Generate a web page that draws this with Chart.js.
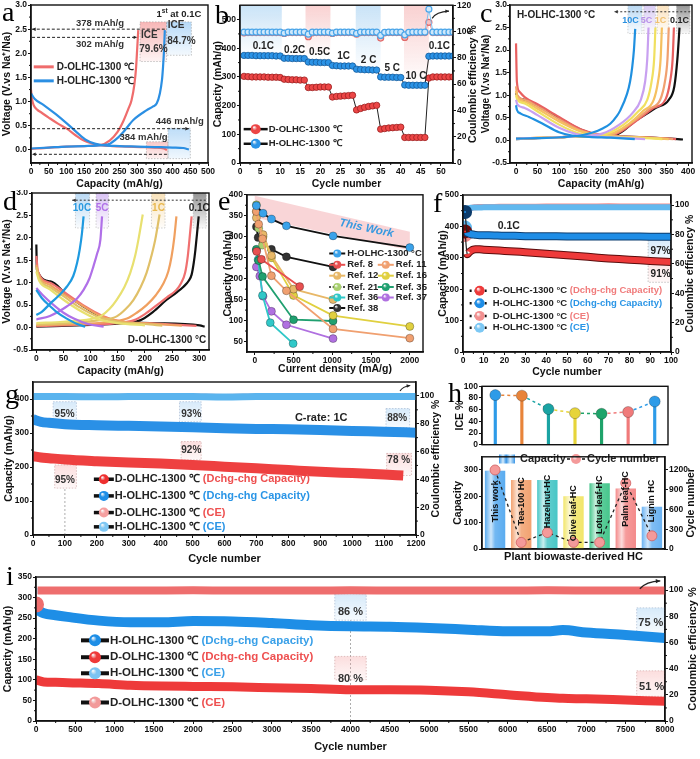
<!DOCTYPE html>
<html><head><meta charset="utf-8">
<script src="https://cdn.jsdelivr.net/npm/chart.js@4.4.0/dist/chart.umd.min.js"></script>
<style>
body{margin:0;background:#fff;}
#wrap{position:relative;width:700px;height:759px;overflow:hidden;background:#fff;}
.lt{position:absolute;font:28px "Liberation Serif","Times New Roman",serif;line-height:28px;color:#000;}
</style></head><body><div id="wrap"></div>
<script>
// ---------------- DATA ----------------
// (a) first cycle GCD at 0.1C : [capacity mAh/g, voltage V]
const aD_dis=[[0,1.25],[3,1.05],[8,0.92],[18,0.83],[26,0.79],[50,0.67],[75,0.55],[101,0.44],[125,0.31],[148,0.2],[170,0.14],[195,0.1],[230,0.08],[270,0.07],[310,0.06],[350,0.05],[375,0.03],[384,0.0]];
const aD_chg=[[0,0.02],[50,0.05],[100,0.07],[150,0.08],[195,0.1],[223,0.2],[245,0.38],[261,0.6],[275,0.85],[284,1.03],[292,1.35],[297,1.72],[300,2.1],[303,2.48]];
const aH_dis=[[0,1.17],[10,1.06],[36,0.93],[70,0.74],[101,0.55],[130,0.36],[157,0.2],[180,0.13],[200,0.1],[250,0.08],[300,0.07],[350,0.06],[400,0.05],[430,0.04],[446,0.01]];
const aH_chg=[[0,0.03],[50,0.05],[100,0.07],[150,0.08],[200,0.1],[223,0.13],[245,0.25],[261,0.37],[289,0.62],[326,0.82],[345,0.9],[355,0.96],[364,1.17],[370,1.45],[373,1.72],[376,2.1],[378,2.48]];
const aXt=[0,50,100,150,200,250,300,350,400,450,500];
const aYt=[0,0.5,1,1.5,2,2.5,3];

// (b) rate performance
const bCapD=[302,301,300,300,300,300,299,299,299,298, 292,291,290,290,289,289, 263,263,264,265,265,265, 230,232,233,234,235,236, 185,190,194,197,199,201, 118,120,122,123,124,125, 89,89,89,89,89,89, 296,300,300,300,300,300,300];
const bCapH=[375,375,375,374,374,374,374,374,373,373, 365,365,364,364,364,364, 352,351,351,350,350,350, 340,339,338,338,338,338, 327,326,325,325,324,324, 300,299,299,299,298,298, 272,271,271,271,271,271, 372,373,373,373,373,373,373];
const bCE_H=[99.5,99.6,99.6,99.6,99.6,99.6,99.6,99.6,99.6,99.6, 98.8,99.6,99.6,99.6,99.6,99.6, 98,99.5,99.6,99.6,99.6,99.6, 98.8,99.6,99.6,99.6,99.6,99.6, 98.5,99.6,99.6,99.6,99.6,99.6, 97,99.4,99.6,99.6,99.6,99.6, 97.5,99.4,99.6,99.6,99.6,99.6, 117,99.5,99.6,99.6,99.6,99.6,99.6];
const bCE_D=[99,99.2,99.2,99.2,99.2,99.2,99.2,99.2,99.2,99.2, 98.5,99.2,99.2,99.2,99.2,99.2, 96,99,99.2,99.2,99.2,99.2, 98.5,99.2,99.2,99.2,99.2,99.2, 98,99.2,99.2,99.2,99.2,99.2, 95,99,99.2,99.2,99.2,99.2, 95.5,99,99.2,99.2,99.2,99.2, 107,99.2,99.2,99.2,99.2,99.2,99.2];
const bCycles=bCapD.map((_,i)=>i+1);
const bXt=[0,5,10,15,20,25,30,35,40,45,50];
const bYt=[0,100,200,300,400,500];
const bY1t=[0,20,40,60,80,100,120];
const bRateLabels=['0.1C','0.2C','0.5C','1C','2 C','5 C','10 C','0.1C'];

// (c) H-OLHC-1300 GCD at rates  order: 10C,5C,2C,1C,0.5C,0.2C,0.1C
const cRates=['10C','5C','2C','1C','0.5C','0.2C','0.1C'];
const cDis=[
 [[0,0.78],[2,0.68],[10,0.6],[30,0.52],[60,0.38],[100,0.18],[130,0.11],[170,0.08],[220,0.06],[276,0.03]],
 [[0,0.9],[3,0.8],[20,0.72],[50,0.56],[100,0.28],[140,0.14],[180,0.09],[240,0.06],[300,0.03]],
 [[0,1.0],[3,0.9],[20,0.82],[50,0.64],[100,0.35],[145,0.16],[190,0.1],[260,0.07],[340,0.03]],
 [[0,1.1],[3,0.95],[20,0.86],[50,0.7],[100,0.42],[150,0.2],[200,0.1],[280,0.07],[355,0.03]],
 [[0,1.2],[3,1.0],[20,0.9],[50,0.75],[100,0.47],[150,0.22],[200,0.11],[290,0.07],[365,0.03]],
 [[0,2.15],[2,1.3],[8,1.08],[20,0.96],[50,0.8],[100,0.52],[150,0.25],[200,0.12],[300,0.07],[372,0.03]],
 [[0,1.05],[5,0.95],[20,0.9],[50,0.76],[100,0.5],[150,0.24],[200,0.11],[300,0.07],[388,0.02]]];
const cChg=[
 [[0,0.04],[50,0.05],[103,0.07],[150,0.11],[180,0.18],[200,0.26],[219,0.37],[235,0.55],[242,0.66],[258,1.03],[265,1.3],[270,1.62],[274,2.0],[277,2.47]],
 [[0,0.04],[100,0.07],[150,0.1],[200,0.15],[240,0.35],[270,0.6],[290,0.9],[300,1.3],[305,1.8],[308,2.5]],
 [[0,0.04],[100,0.07],[150,0.09],[200,0.12],[250,0.35],[285,0.65],[305,0.9],[315,1.3],[321,1.8],[324,2.5]],
 [[0,0.04],[100,0.07],[150,0.09],[210,0.12],[260,0.35],[295,0.65],[320,0.9],[330,1.3],[336,1.8],[339,2.5]],
 [[0,0.04],[100,0.07],[150,0.09],[220,0.12],[270,0.4],[310,0.7],[335,0.9],[346,1.3],[352,1.8],[355,2.5]],
 [[0,0.04],[100,0.07],[150,0.09],[225,0.12],[275,0.4],[320,0.72],[348,0.92],[358,1.3],[364,1.8],[367,2.5]],
 [[0,0.03],[100,0.07],[150,0.09],[230,0.12],[280,0.45],[325,0.72],[355,0.9],[368,1.2],[375,1.8],[380,2.5]]];
const cXt=[0,50,100,150,200,250,300,350,400];
const vYt=[-0.5,0,0.5,1,1.5,2,2.5,3];

// (d) D-OLHC-1300 GCD at rates  order: 10C,5C,2C,1C,0.5C,0.2C,0.1C
const dDis=[
 [[0,0.84],[10,0.66],[26,0.47],[40,0.32],[56,0.2],[75,0.08],[90,0.02]],
 [[0,0.88],[12,0.72],[32,0.5],[50,0.33],[69,0.2],[95,0.08],[124,0.02]],
 [[0,1.25],[5,1.05],[25,0.85],[50,0.62],[80,0.38],[110,0.2],[150,0.1],[200,0.05]],
 [[0,1.35],[5,1.1],[25,0.9],[50,0.7],[80,0.45],[110,0.26],[150,0.13],[200,0.08],[232,0.04]],
 [[0,1.4],[5,1.15],[25,0.95],[50,0.75],[90,0.45],[120,0.25],[160,0.13],[220,0.08],[268,0.04]],
 [[0,1.6],[3,1.25],[25,1.0],[56,0.75],[90,0.47],[120,0.27],[150,0.15],[220,0.09],[295,0.04]],
 [[0,1.85],[1,1.29],[26,1.03],[56,0.73],[87,0.47],[118,0.25],[148,0.14],[209,0.1],[301,0.05],[310,0.02]]];
const dChg=[
 [[0,0.28],[10,0.35],[26,0.54],[42,0.72],[56,0.91],[68,1.15],[75,1.44],[80,1.75],[84,2.1],[87,2.48]],
 [[0,0.18],[25,0.26],[56,0.47],[75,0.65],[87,0.84],[98,1.1],[105,1.36],[112,1.65],[118,1.96],[121,2.48]],
 [[0,0.1],[50,0.13],[100,0.19],[118,0.25],[135,0.42],[148,0.62],[162,0.9],[173,1.22],[182,1.6],[188,1.96],[196,2.52]],
 [[0,0.07],[60,0.1],[120,0.17],[148,0.25],[165,0.42],[179,0.62],[192,0.9],[203,1.22],[212,1.6],[219,1.96],[227,2.52]],
 [[0,0.05],[80,0.08],[140,0.13],[167,0.2],[185,0.33],[203,0.5],[220,0.72],[234,0.98],[243,1.25],[249,1.58],[254,2.0],[258,2.48]],
 [[0,0.03],[100,0.07],[150,0.1],[179,0.16],[200,0.3],[222,0.5],[240,0.67],[258,0.84],[267,1.0],[274,1.22],[279,1.6],[282,1.96],[286,2.48]],
 [[0,0.02],[100,0.06],[150,0.09],[191,0.16],[215,0.35],[240,0.62],[258,0.78],[271,0.91],[281,1.05],[286,1.18],[290,1.45],[293,1.74],[296,2.1],[299,2.48]]];
const dXt=[0,50,100,150,200,250,300];

// (e) rate comparison [current density mA/g, capacity mAh/g]
const eNames=['H-OLHC-1300 °C','Ref. 8','Ref. 11','Ref. 12','Ref. 16','Ref. 21','Ref. 35','Ref. 36','Ref. 37','Ref. 38'];
const eH=[[21,374],[107,356],[215,342],[408,326],[1010,302],[2000,274]];
const eR8=[[25,265],[86,246],[580,181]];
const eR11=[[21,360],[50,330],[100,295],[215,207],[408,171],[1010,80],[2000,58]];
const eR12=[[21,345],[107,305],[215,255],[500,175],[1010,150]];
const eR16=[[21,360],[107,300],[215,250],[500,160],[1010,112],[2000,86]];
const eR21=[[21,376],[50,320],[100,280]];
const eR35=[[21,270],[50,243],[100,205],[500,102],[1010,99]];
const eR36=[[21,268],[43,245],[100,160],[200,95],[495,45]];
const eR37=[[21,228],[65,206],[107,158],[215,122],[408,90],[1010,57]];
const eR38=[[21,324],[43,298],[107,284],[215,270],[408,252],[1010,228]];
const eXt=[0,500,1000,1500,2000];
const eYt=[50,100,150,200,250,300,350,400];

// (f) cycling 0.1C
const fCycles=[1,2,3,4,5,6,8,10,15,20,25,30,40,50,60,70,80,90,100];
const fCapD=[384,312,318,323,326,327,327,326,324,322,320,318,313,308,303,298,294,290,287];
const fCapH=[446,380,377,375,374,373,372,372,371,370,370,369,369,368,368,368,368,367,367];
const fCE_D=[79.6,96,97.5,98,98.5,98.6,98.7,98.8,98.8,98.9,98.9,98.9,99,99,99,99.2,99,99,99];
const fCE_H=[84.7,97,98,98.2,98.3,98.4,98.4,98.5,98.5,98.5,98.5,98.5,98.5,98.5,98.5,98.5,98.5,98.5,98.5];
const fXt=[0,10,20,30,40,50,60,70,80,90,100];
const fYt=[0,100,200,300,400,500];
const ceT=[0,20,40,60,80,100];

// (g) cycling 1C
const gCycles=[0,25,50,100,200,300,400,500,600,700,800,900,1000,1100,1200];
const gCapH=[340,333,330,326,323,321,319,317,314,312,311,309,306,304,301];
const gCyclesD=[0,25,50,100,200,300,400,500,600,700,800,900,1000,1100,1160];
const gCapD=[232,228,226,222,217,213,210,206,201,196,191,186,182,178,175];
const gCE_H=[99.5,99.6,99.5,99.5,99.4,99.5,99.6,99.5,99.2,99.5,99.6,99.5,99.5,99.6,99.5];
const gCE_D=[99.4,99.5,99.4,99.4,99.3,99.4,99.5,99.4,99.3,99.4,99.5,99.4,99.4,99.5,99.4];
const gXt=[0,100,200,300,400,500,600,700,800,900,1000,1100,1200];
const gYt=[0,100,200,300,400];

// (h) plant biowaste-derived HC comparison
const hNames=['This work','Tea-100 HC','Hazelnut-HC','Olive leaf-HC','Lotus leaf-HC','Palm leaf-HC','Lignin HC'];
const hICE=[85,84,61,54,53,56,74];
const hCap=[297,262,262,200,250,230,160];
const hCycle=[1200,100,250,100,100,1000,200];
const hIceT=[0,20,40,60,80,100];
const hCapT=[0,100,200,300];
const hCycT=[0,300,600,900,1200];

// (i) long cycling
const iCycles=[0,100,250,400,800,1200,1600,2000,2500,3000,3500,4000,4500,5000,5500,6000,6500,6700,7000,7500,8000];
const iCapH=[272,262,257,253,244,240,240,243,242,238,233,230,229,226,222,218,218,221,215,209,202];
const iCapD=[100,95,94,93,91,87,85,84,83,81,79,76,76,75,71,64,57,55,54,51,48];
const iCECycles=[0,20,500,1000,1500,2000,2500,3000,3500,4000,4500,5000,5500,6000,6500,7000,7500,8000];
const iCE_D=[89,99.6,99.7,99.6,99.7,99.8,99.6,99.7,99.7,99.8,99.7,99.6,99.7,99.7,99.8,99.7,99.6,99.7];
const iCE_H=[91,99.4,99.5,99.4,99.5,99.6,99.4,99.5,99.5,99.6,99.5,99.4,99.5,99.5,99.6,99.5,99.4,99.5];
const iXt=[0,500,1000,1500,2000,2500,3000,3500,4000,4500,5000,5500,6000,6500,7000,7500,8000];
const iYt=[0,50,100,150,200,250,300,350];

// ---------------- HELPERS ----------------
const FAM='"Liberation Sans", Arial, Helvetica, sans-serif';
const F=(s,st)=>(st?st+' ':'')+'bold '+s+'px '+FAM;
Chart.defaults.font.family=FAM;
Chart.defaults.animation=false;
Chart.defaults.responsive=false;
Chart.defaults.events=[];
Chart.defaults.plugins.legend.display=false;
Chart.defaults.plugins.tooltip.enabled=false;

const P=a=>a.map(q=>({x:q[0],y:q[1]}));
const Z=(xs,ys)=>xs.map((x,i)=>({x:x,y:ys[i]}));

function arrowHead(ctx,from,to,color,size){
  size=size||5;
  const a=Math.atan2(to[1]-from[1],to[0]-from[0]);
  ctx.fillStyle=color;ctx.beginPath();ctx.moveTo(to[0],to[1]);
  ctx.lineTo(to[0]-size*Math.cos(a-0.45),to[1]-size*Math.sin(a-0.45));
  ctx.lineTo(to[0]-size*Math.cos(a+0.45),to[1]-size*Math.sin(a+0.45));
  ctx.closePath();ctx.fill();
}
function ball(ctx,x,y,r,col){
  const g=ctx.createRadialGradient(x-r*0.35,y-r*0.4,r*0.05,x,y,r);
  g.addColorStop(0,'rgba(255,255,255,0.95)');g.addColorStop(0.45,col);g.addColorStop(1,col);
  ctx.fillStyle=g;ctx.beginPath();ctx.arc(x,y,r,0,Math.PI*2);ctx.fill();
}
function rich(ctx,x,y,segs,font,align,rot){
  ctx.save();ctx.translate(x,y);if(rot)ctx.rotate(rot*Math.PI/180);
  ctx.textBaseline='middle';ctx.textAlign='left';
  let w=0;const ms=segs.map(s=>{ctx.font=s.f||font;const m=ctx.measureText(s.t).width;w+=m;return m;});
  let cx=align==='center'?-w/2:(align==='right'?-w:0);
  segs.forEach((s,i)=>{ctx.font=s.f||font;ctx.fillStyle=s.c||'#222';ctx.fillText(s.t,cx,s.dy||0);cx+=ms[i];});
  ctx.restore();
}
function drawItems(ch,items,o){
  const ctx=ch.ctx;
  for(const it of items){
    const xa=it.xAxis||'x',ya=it.yAxis||'y';
    const X=v=>it.page?v-o.ox:ch.scales[xa].getPixelForValue(v);
    const Y=v=>it.page?v-o.oy:ch.scales[ya].getPixelForValue(v);
    ctx.save();
    if(it.type==='box'){
      const x0=X(it.x0),x1=X(it.x1),y0=Y(it.y0),y1=Y(it.y1);
      const l=Math.min(x0,x1),t=Math.min(y0,y1),w=Math.abs(x1-x0),h=Math.abs(y1-y0);
      let fill=it.color;
      if(it.color2){const g=ctx.createLinearGradient(0,t,0,t+h);g.addColorStop(0,it.color);g.addColorStop(1,it.color2);fill=g;}
      ctx.fillStyle=fill;ctx.fillRect(l,t,w,h);
      if(it.stroke){ctx.strokeStyle=it.stroke;ctx.lineWidth=0.8;ctx.setLineDash([1.5,1.5]);ctx.strokeRect(l,t,w,h);}
    }else if(it.type==='poly'){
      ctx.fillStyle=it.color;ctx.beginPath();
      it.pts.forEach((q,i)=>{const px=X(q[0]),py=Y(q[1]);if(i)ctx.lineTo(px,py);else ctx.moveTo(px,py);});
      ctx.closePath();ctx.fill();
    }else if(it.type==='line'){
      const p=it.pts.map(q=>[X(q[0]),Y(q[1])]);
      ctx.strokeStyle=it.color||'#222';ctx.lineWidth=it.width||1;ctx.setLineDash(it.dash||[]);
      ctx.beginPath();ctx.moveTo(p[0][0],p[0][1]);
      if(it.curve&&p.length===3)ctx.quadraticCurveTo(p[1][0],p[1][1],p[2][0],p[2][1]);
      else for(let i=1;i<p.length;i++)ctx.lineTo(p[i][0],p[i][1]);
      ctx.stroke();ctx.setLineDash([]);
      if(it.arrowEnd)arrowHead(ctx,p[p.length-2],p[p.length-1],it.color||'#222',it.ah);
      if(it.arrowStart)arrowHead(ctx,p[1],p[0],it.color||'#222',it.ah);
    }else if(it.type==='text'){
      rich(ctx,X(it.x),Y(it.y),it.segs||[{t:it.text,c:it.color}],it.font||F(10),it.align||'center',it.rot||0);
    }else if(it.type==='legend'){
      const cx=X(it.x),cy=Y(it.y),hf=it.half||10;
      if(it.bar){
        const w=hf*2,h=9,l=cx-hf,t=cy-h/2;
        const g=ctx.createLinearGradient(l,0,l+w,0);
        g.addColorStop(0,'#3a95e6');g.addColorStop(0.25,'#d6ecfb');g.addColorStop(0.45,'#3a95e6');g.addColorStop(0.7,'#d6ecfb');g.addColorStop(1,'#3a95e6');
        ctx.fillStyle=g;ctx.fillRect(l,t,w,h);
      }else{
        ctx.strokeStyle=it.lineColor||'#111';ctx.lineWidth=it.lw||2;ctx.setLineDash(it.dash||[]);
        ctx.beginPath();ctx.moveTo(cx-hf,cy);ctx.lineTo(cx+hf,cy);ctx.stroke();ctx.setLineDash([]);
        if(it.ball)ball(ctx,cx,cy,it.r||4,it.ball);
      }
      rich(ctx,cx+hf+(it.gap||2),cy,it.segs,it.font||F(10),'left',0);
    }
    ctx.restore();
  }
}
const anno={id:'anno',
  beforeDatasetsDraw(ch,a,o){drawItems(ch,o.before||[],o);},
  afterDatasetsDraw(ch,a,o){drawItems(ch,o.after||[],o);},
  afterDatasetDraw(ch,a,o){
    if(o.gloss&&a.index===o.gloss){
      const ctx=ch.ctx;
      a.meta.data.forEach(el=>{
        const w=el.width,l=el.x-w/2,t=Math.min(el.y,el.base),h=Math.abs(el.base-el.y);
        const g=ctx.createLinearGradient(l,0,l+w,0);
        g.addColorStop(0,'rgba(255,255,255,0)');g.addColorStop(0.3,'rgba(255,255,255,0.7)');
        g.addColorStop(0.5,'rgba(255,255,255,0.15)');g.addColorStop(1,'rgba(255,255,255,0)');
        ctx.save();ctx.fillStyle=g;ctx.fillRect(l,t,w,h);ctx.restore();
      });
    }
  },
  afterDraw(ch,a,o){
    const ctx=ch.ctx,ca=ch.chartArea;
    ctx.save();
    ctx.strokeStyle='#111';ctx.lineWidth=1.4;
    ctx.strokeRect(ca.left,ca.top,ca.right-ca.left,ca.bottom-ca.top);
    (o.minor||[]).forEach(id=>{
      const s=ch.scales[id];if(!s)return;
      const tk=s.ticks;ctx.lineWidth=1;ctx.beginPath();
      for(let i=0;i<tk.length-1;i++){
        const m=(s.getPixelForValue(tk[i].value)+s.getPixelForValue(tk[i+1].value))/2;
        if(s.position==='left'){ctx.moveTo(ca.left,m);ctx.lineTo(ca.left-2,m);}
        else if(s.position==='right'){ctx.moveTo(ca.right,m);ctx.lineTo(ca.right+2,m);}
        else {ctx.moveTo(m,ca.bottom);ctx.lineTo(m,ca.bottom+2);}
      }
      ctx.stroke();
    });
    if(o.rt){
      ctx.translate(o.rt.x,(ca.top+ca.bottom)/2);ctx.rotate(-Math.PI/2);
      ctx.font=F(o.rt.s||10.5);ctx.fillStyle='#111';ctx.textAlign='center';ctx.textBaseline='middle';
      ctx.fillText(o.rt.text,0,0);
    }
    ctx.restore();
  }
};
Chart.register(anno);

function L(pos,min,max,ticks,size,title,o){
  o=o||{};
  const hz=pos==='bottom'||pos==='top';
  const sc={type:o.cat?'category':'linear',position:pos,display:o.display!==false,offset:!!o.cat,
    afterFit(s){if(hz)s.height=size;else s.width=size;s.paddingLeft=0;s.paddingRight=0;s.paddingTop=0;s.paddingBottom=0;},
    grid:{drawOnChartArea:false,drawTicks:!o.noMarks,tickLength:3,color:'#111',lineWidth:1},
    border:{display:true,color:'#111',width:1.4},
    ticks:{display:!o.noLabels,font:{family:FAM,size:o.fs||8.5,weight:'bold'},color:'#111',padding:o.tkp===undefined?1:o.tkp,maxRotation:0,minRotation:0,autoSkip:false},
    title:{display:!!title,text:title||'',color:'#111',font:{family:FAM,size:o.ts||10.5,weight:'bold'},padding:{top:o.tp||0,bottom:o.tp||0}}
  };
  if(!o.cat){
    sc.min=min;sc.max=max;sc.bounds='data';
    if(ticks)sc.afterBuildTicks=s=>{s.ticks=ticks.map(v=>({value:v}));};
    sc.ticks.callback=o.fmt||(v=>String(v));
  }
  return sc;
}
function mk(box,plot,build){
  const c=document.createElement('canvas');
  c.width=box.w;c.height=box.h;
  c.style.cssText='position:absolute;left:'+box.x+'px;top:'+box.y+'px;width:'+box.w+'px;height:'+box.h+'px;';
  document.getElementById('wrap').appendChild(c);
  const s={l:plot.l-box.x,t:plot.t-box.y,r:box.x+box.w-plot.r,b:box.y+box.h-plot.b};
  const cfg=build(s);
  cfg.options=cfg.options||{};
  cfg.options.devicePixelRatio=1;
  cfg.options.maintainAspectRatio=false;
  cfg.options.plugins=cfg.options.plugins||{};
  cfg.options.plugins.anno=Object.assign({ox:box.x,oy:box.y},cfg.options.plugins.anno||{});
  return new Chart(c,cfg);
}
function ln(data,color,w,extra){
  return Object.assign({type:'line',data:data,borderColor:color,backgroundColor:color,borderWidth:w,pointRadius:0,fill:false,cubicInterpolationMode:'monotone'},extra||{});
}
function letter(t,x,baseline){
  const d=document.createElement('div');d.className='lt';d.textContent=t;
  d.style.left=x+'px';d.style.top=(baseline-23)+'px';
  document.getElementById('wrap').appendChild(d);
}
const RED='#ef6c6c',BLUE='#2b8fe3';

// ---------------- (a) ----------------
mk({x:0,y:0,w:225,h:195},{l:31,t:5,r:208,b:163},s=>({type:'line',
  data:{datasets:[ln(P(aH_chg),BLUE,2.2),ln(P(aH_dis),BLUE,2.2),ln(P(aD_chg),RED,2.2),ln(P(aD_dis),RED,2.2)]},
  options:{layout:{padding:{top:s.t,left:0,right:s.r,bottom:0}},
    scales:{x:L('bottom',0,500,aXt,s.b,'Capacity (mAh/g)',{tp:5}),
            y:L('left',-0.27,3,aYt,s.l,'Voltage (V.vs Na⁺/Na)',{tp:1,fmt:v=>v.toFixed(1)})},
    plugins:{anno:{minor:['x','y'],
      before:[
        {type:'box',x0:308,x1:383,y0:2.65,y1:1.83,color:'rgba(240,110,110,0.5)',color2:'rgba(240,110,110,0.08)',stroke:'rgba(150,150,150,0.7)'},
        {type:'box',x0:383,x1:453,y0:2.65,y1:1.96,color:'rgba(110,180,240,0.5)',color2:'rgba(110,180,240,0.08)',stroke:'rgba(150,150,150,0.7)'},
        {type:'box',x0:326,x1:387,y0:0.17,y1:-0.18,color:'rgba(240,120,120,0.4)',color2:'rgba(240,120,120,0.1)',stroke:'rgba(150,150,150,0.7)'},
        {type:'box',x0:387,x1:450,y0:0.45,y1:-0.18,color:'rgba(110,180,240,0.45)',color2:'rgba(110,180,240,0.1)',stroke:'rgba(150,150,150,0.7)'}
      ],
      after:[
        {type:'line',pts:[[378,2.5],[3,2.5]],dash:[3,2],arrowEnd:true,ah:4},
        {type:'line',pts:[[3,2.33],[300,2.33]],dash:[3,2],arrowEnd:true,ah:4},
        {type:'line',pts:[[3,0.44],[446,0.44]],dash:[3,2],arrowEnd:true,ah:4},
        {type:'line',pts:[[384,-0.09],[3,-0.09]],dash:[3,2],arrowEnd:true,ah:4},
        {type:'text',x:195,y:2.63,text:'378 mAh/g',color:'#333',font:F(9.5)},
        {type:'text',x:195,y:2.19,text:'302 mAh/g',color:'#333',font:F(9.5)},
        {type:'text',x:334,y:2.38,text:'ICE',color:'#333',font:F(10)},
        {type:'text',x:346,y:2.09,text:'79.6%',color:'#333',font:F(10)},
        {type:'text',x:410,y:2.58,text:'ICE',color:'#333',font:F(10)},
        {type:'text',x:425,y:2.26,text:'84.7%',color:'#333',font:F(10)},
        {type:'text',x:420,y:0.6,text:'446 mAh/g',color:'#333',font:F(9.5)},
        {type:'text',x:318,y:0.27,text:'384 mAh/g',color:'#333',font:F(9.5)},
        {type:'text',x:418,y:2.8,segs:[{t:'1',c:'#222'},{t:'st',c:'#222',f:F(6.5),dy:-3},{t:' at 0.1C',c:'#222'}],font:F(9.5)},
        {type:'legend',x:36,y:1.72,half:10,lw:3,lineColor:RED,gap:3,segs:[{t:'D-OLHC-1300 ℃',c:'#222'}],font:F(10)},
        {type:'legend',x:36,y:1.43,half:10,lw:3,lineColor:BLUE,gap:3,segs:[{t:'H-OLHC-1300 ℃',c:'#222'}],font:F(10)}
      ]}}}}));

// ---------------- (b) ----------------
mk({x:212,y:0,w:268,h:195},{l:240,t:5,r:453,b:163},s=>({type:'line',
  data:{datasets:[
    {data:Z(bCycles,bCapH),borderColor:'#222',borderWidth:1,pointRadius:3.2,pointBackgroundColor:'#2b93e6',pointBorderColor:'#155a9a',pointBorderWidth:0.8,tension:0},
    {data:Z(bCycles,bCapD),borderColor:'#222',borderWidth:1,pointRadius:3.2,pointBackgroundColor:'#ec4646',pointBorderColor:'#9a2020',pointBorderWidth:0.8,tension:0},
    {data:Z(bCycles,bCE_H),yAxisID:'y1',borderColor:'#7cc0f0',borderWidth:1,pointRadius:3,pointBackgroundColor:'#cfe8fb',pointBorderColor:'#4aa6ea',pointBorderWidth:1.2,tension:0},
    {data:Z(bCycles,bCE_D),yAxisID:'y1',borderColor:'#f0a0a0',borderWidth:1,pointRadius:3,pointBackgroundColor:'#f8c0c0',pointBorderColor:'#e06a6a',pointBorderWidth:1.2,tension:0}
  ]},
  options:{layout:{padding:{top:s.t,left:0,right:0,bottom:0}},
    scales:{x:L('bottom',0,53,bXt,s.b,'Cycle number',{tp:5}),
            y:L('left',0,550,bYt,s.l,'Capacity (mAh/g)',{tp:0}),
            y1:L('right',0,120,bY1t,s.r,null)},
    plugins:{anno:{minor:['x','y','y1'],rt:{text:'Coulombic efficiency %',x:261},
      before:[
        {type:'box',x0:0,x1:10.4,y0:550,y1:380,color:'rgba(120,185,235,0.4)',color2:'rgba(120,185,235,0.02)'},
        {type:'box',x0:16.3,x1:22.5,y0:550,y1:380,color:'rgba(240,140,140,0.4)',color2:'rgba(240,140,140,0.02)'},
        {type:'box',x0:28.8,x1:35,y0:550,y1:330,color:'rgba(120,185,235,0.4)',color2:'rgba(120,185,235,0.02)'},
        {type:'box',x0:40.8,x1:47,y0:550,y1:280,color:'rgba(240,140,140,0.4)',color2:'rgba(240,140,140,0.02)'}
      ],
      after:[
        {type:'text',x:5.8,y:406,text:bRateLabels[0],color:'#222',font:F(10)},
        {type:'text',x:13.6,y:394,text:bRateLabels[1],color:'#222',font:F(10)},
        {type:'text',x:19.8,y:385,text:bRateLabels[2],color:'#222',font:F(10)},
        {type:'text',x:25.8,y:372,text:bRateLabels[3],color:'#222',font:F(10)},
        {type:'text',x:32,y:357,text:bRateLabels[4],color:'#222',font:F(10)},
        {type:'text',x:37.9,y:331,text:bRateLabels[5],color:'#222',font:F(10)},
        {type:'text',x:43.8,y:302,text:bRateLabels[6],color:'#222',font:F(10)},
        {type:'text',x:49.6,y:406,text:bRateLabels[7],color:'#222',font:F(10)},
        {type:'line',yAxis:'y1',pts:[[47.8,110],[48.8,115],[52,115.5]],curve:true,arrowEnd:true,ah:4,width:1.2},
        {type:'legend',x:3.9,y:118,half:12,lw:2.5,ball:'#ec4646',r:5,gap:1,segs:[{t:'D-OLHC-1300 ℃',c:'#222'}],font:F(9.5)},
        {type:'legend',x:3.9,y:67,half:12,lw:2.5,ball:'#2b93e6',r:5,gap:1,segs:[{t:'H-OLHC-1300 ℃',c:'#222'}],font:F(9.5)}
      ]}}}}));

// ---------------- (c) ----------------
const cCols=['#2090e0','#c8a0f0','#f0e060','#f5c060','#f0a070','#e86060','#111'];
mk({x:480,y:0,w:220,h:195},{l:510,t:5,r:692,b:163},s=>{
  const ds=[];
  cRates.forEach((r,i)=>{ds.push(ln(P(cChg[i]),cCols[i],2.2));ds.push(ln(P(cDis[i]),cCols[i],2.2));});
  return {type:'line',data:{datasets:ds},
  options:{layout:{padding:{top:s.t,left:0,right:s.r,bottom:0}},
    scales:{x:L('bottom',-14,409,cXt,s.b,'Capacity (mAh/g)',{tp:5}),
            y:L('left',-0.5,3,vYt,s.l,'Voltage (V.vs Na⁺/Na)',{tp:0,ts:10,tkp:0,fmt:v=>v.toFixed(1)})},
    plugins:{anno:{minor:['x','y'],
      before:[
        {type:'box',x0:260,x1:293,y0:3,y1:2.37,color:'rgba(100,170,230,0.45)',color2:'rgba(100,170,230,0.03)',stroke:'rgba(160,160,160,0.6)'},
        {type:'box',x0:297,x1:324,y0:3,y1:2.37,color:'rgba(170,140,230,0.45)',color2:'rgba(170,140,230,0.03)',stroke:'rgba(160,160,160,0.6)'},
        {type:'box',x0:328,x1:355,y0:3,y1:2.37,color:'rgba(245,190,110,0.45)',color2:'rgba(245,190,110,0.03)',stroke:'rgba(160,160,160,0.6)'},
        {type:'box',x0:373,x1:404,y0:3,y1:2.37,color:'rgba(60,60,60,0.55)',color2:'rgba(60,60,60,0.03)',stroke:'rgba(160,160,160,0.6)'}
      ],
      after:[
        {type:'line',pts:[[405,2.85],[228,2.85]],dash:[2,2],arrowEnd:true,ah:4,color:'#333'},
        {type:'text',x:266,y:2.65,text:cRates[0],color:'#2a90e0',font:F(9)},
        {type:'text',x:303,y:2.65,text:cRates[1],color:'#b890e8',font:F(9)},
        {type:'text',x:336,y:2.65,text:cRates[3],color:'#f0c070',font:F(9)},
        {type:'text',x:380,y:2.65,text:cRates[6],color:'#222',font:F(9)},
        {type:'text',x:2,y:2.78,text:'H-OLHC-1300 °C',color:'#222',font:F(10),align:'left'}
      ]}}}};
});

// ---------------- (d) ----------------
const dCols=['#1e9ae0','#b070e8','#e8e070','#e0c068','#f0a060','#f07070','#111'];
mk({x:0,y:190,w:225,h:195},{l:32,t:193,r:209,b:350},s=>{
  const ds=[];
  cRates.forEach((r,i)=>{ds.push(ln(P(dChg[i]),dCols[i],2.2));ds.push(ln(P(dDis[i]),dCols[i],2.2));});
  return {type:'line',data:{datasets:ds},
  options:{layout:{padding:{top:s.t,left:0,right:s.r,bottom:0}},
    scales:{x:L('bottom',-8,318,dXt,s.b,'Capacity (mAh/g)',{tp:8}),
            y:L('left',-0.5,3,vYt,s.l,'Voltage (V.vs Na⁺/Na)',{tp:1,fmt:v=>v.toFixed(1)})},
    plugins:{anno:{minor:['x','y'],
      before:[
        {type:'box',x0:72,x1:98,y0:3,y1:2.22,color:'rgba(100,170,230,0.45)',color2:'rgba(100,170,230,0.03)',stroke:'rgba(160,160,160,0.6)'},
        {type:'box',x0:110,x1:133,y0:3,y1:2.22,color:'rgba(170,120,230,0.45)',color2:'rgba(170,120,230,0.03)',stroke:'rgba(160,160,160,0.6)'},
        {type:'box',x0:212,x1:237,y0:3,y1:2.22,color:'rgba(240,190,100,0.45)',color2:'rgba(240,190,100,0.03)',stroke:'rgba(160,160,160,0.6)'},
        {type:'box',x0:289,x1:313,y0:3,y1:2.22,color:'rgba(60,60,60,0.55)',color2:'rgba(60,60,60,0.03)',stroke:'rgba(160,160,160,0.6)'}
      ],
      after:[
        {type:'line',pts:[[312,2.84],[66,2.84]],dash:[2,2],arrowEnd:true,ah:4,color:'#333'},
        {type:'text',x:84,y:2.66,text:cRates[0],color:'#2a9ae0',font:F(10)},
        {type:'text',x:121,y:2.66,text:cRates[1],color:'#b070e8',font:F(10)},
        {type:'text',x:225,y:2.66,text:cRates[3],color:'#e8b850',font:F(10)},
        {type:'text',x:300,y:2.66,text:cRates[6],color:'#222',font:F(10)},
        {type:'text',x:313,y:-0.28,text:'D-OLHC-1300 °C',color:'#222',font:F(10),align:'right'}
      ]}}}};
});

// ---------------- (e) ----------------
const eCols=['#3aa2ea','#e85050','#f0a070','#e8b868','#e0d040','#a8d070','#20a070','#30c8c8','#b070e0','#333'];
const eLine=['#111','#e85050','#f0a070','#e8b868','#e0d040','#111','#20a070','#30c8c8','#b070e0','#111'];
const eSets=[eH,eR8,eR11,eR12,eR16,eR21,eR35,eR36,eR37,eR38];
mk({x:215,y:190,w:215,h:195},{l:247,t:193,r:423,b:352},s=>({type:'line',
  data:{datasets:eSets.map((d,i)=>({data:P(d),borderColor:eLine[i],borderWidth:1.8,borderDash:i===5?[1.5,2.5]:[],tension:0,
      pointRadius:4,pointBackgroundColor:eCols[i],pointBorderColor:'rgba(0,0,0,0.35)',pointBorderWidth:0.8}))},
  options:{layout:{padding:{top:s.t,left:0,right:s.r,bottom:0}},
    scales:{x:L('bottom',-100,2170,eXt,s.b,'Current density (mA/g)',{tp:10}),
            y:L('left',25,400,eYt,s.l,'Capacity (mAh/g)',{tp:7})},
    plugins:{anno:{minor:['x','y'],
      before:[{type:'poly',pts:[[0,398],[2000,312],[2000,268],[0,345]],color:'rgba(240,150,155,0.4)'}],
      after:[
        {type:'text',x:1440,y:320,text:'This Work',color:'#3a9ae0',font:F(11.5,'italic'),rot:12},
        {type:'legend',x:1064,y:260,half:8,lw:2,ball:eCols[0],r:4,lineColor:eLine[0],segs:[{t:eNames[0],c:'#222'}],font:F(9.5)},
        {type:'legend',x:1064,y:233,half:8,lw:2,ball:eCols[1],r:4,lineColor:eLine[1],segs:[{t:eNames[1],c:'#222'}],font:F(9.5)},
        {type:'legend',x:1064,y:207,half:8,lw:2,ball:eCols[3],r:4,lineColor:eLine[3],segs:[{t:eNames[3],c:'#222'}],font:F(9.5)},
        {type:'legend',x:1064,y:180,half:8,lw:2,ball:eCols[5],r:4,lineColor:'#111',dash:[1.5,2],segs:[{t:eNames[5],c:'#222'}],font:F(9.5)},
        {type:'legend',x:1064,y:155,half:8,lw:2,ball:eCols[7],r:4,lineColor:eLine[7],segs:[{t:eNames[7],c:'#222'}],font:F(9.5)},
        {type:'legend',x:1064,y:130,half:8,lw:2,ball:eCols[9],r:4,lineColor:eLine[9],segs:[{t:eNames[9],c:'#222'}],font:F(9.5)},
        {type:'legend',x:1690,y:233,half:8,lw:2,ball:eCols[2],r:4,lineColor:eLine[2],segs:[{t:eNames[2],c:'#222'}],font:F(9.5)},
        {type:'legend',x:1690,y:207,half:8,lw:2,ball:eCols[4],r:4,lineColor:eLine[4],segs:[{t:eNames[4],c:'#222'}],font:F(9.5)},
        {type:'legend',x:1690,y:180,half:8,lw:2,ball:eCols[6],r:4,lineColor:eLine[6],segs:[{t:eNames[6],c:'#222'}],font:F(9.5)},
        {type:'legend',x:1690,y:155,half:8,lw:2,ball:eCols[8],r:4,lineColor:eLine[8],segs:[{t:eNames[8],c:'#222'}],font:F(9.5)}
      ]}}}}));

// ---------------- (f) ----------------
const firstSeg={borderColor:c=>c.p0DataIndex===0?'#222':undefined,borderWidth:c=>c.p0DataIndex===0?1.2:undefined};
const hideFirst={borderColor:c=>c.p0DataIndex===0?'rgba(0,0,0,0)':undefined};
const firstPt=c=>c.dataIndex===0?4:0;
mk({x:430,y:185,w:270,h:200},{l:463,t:190,r:671,b:352},s=>({type:'line',
  data:{datasets:[
    ln(Z(fCycles,fCapH),'#1e8de6',6,{tension:0.3,cubicInterpolationMode:'default',pointRadius:firstPt,pointBorderColor:'#0b3a6a',segment:firstSeg}),
    ln(Z(fCycles,fCapH),'#0d3d6e',8,{tension:0.3,cubicInterpolationMode:'default',segment:hideFirst}),
    ln(Z(fCycles,fCapD),'#ee3a3a',6,{tension:0.3,cubicInterpolationMode:'default',pointRadius:firstPt,pointBorderColor:'#6a0c0c',segment:firstSeg}),
    ln(Z(fCycles,fCapD),'#5a0c0c',8,{tension:0.3,cubicInterpolationMode:'default',segment:hideFirst}),
    ln(Z(fCycles,fCE_H),'#62b8ee',6,{yAxisID:'y1',tension:0.3,cubicInterpolationMode:'default',pointRadius:firstPt,segment:hideFirst}),
    ln(Z(fCycles,fCE_D),'#f28a8a',6,{yAxisID:'y1',tension:0.3,cubicInterpolationMode:'default',pointRadius:firstPt,segment:hideFirst})
  ]},
  options:{layout:{padding:{top:s.t,left:0,right:0,bottom:0}},
    scales:{x:L('bottom',0,100,fXt,s.b,'Cycle number',{tp:7}),
            y:L('left',0,500,fYt,s.l,'Capacity (mAh/g)',{tp:7}),
            y1:L('right',0,106.9,ceT,s.r,null)},
    plugins:{anno:{minor:['x','y','y1'],rt:{text:'Coulombic efficiency %',x:260},
      before:[
        {type:'box',x0:89,x1:100,y0:369,y1:295,color:'rgba(130,190,240,0.35)',color2:'rgba(130,190,240,0.1)',stroke:'rgba(150,150,150,0.7)'},
        {type:'box',x0:89,x1:100,y0:295,y1:222,color:'rgba(245,160,160,0.3)',color2:'rgba(245,160,160,0.08)',stroke:'rgba(150,150,150,0.7)'}
      ],
      after:[
        {type:'text',x:22,y:400,text:'0.1C',color:'#222',font:F(10.5)},
        {type:'text',x:95,y:322,text:'97%',color:'#222',font:F(10)},
        {type:'text',x:95,y:248,text:'91%',color:'#222',font:F(10)},
        {type:'legend',x:8,y:195,half:10,lw:2.5,dash:[2,3],ball:'#ee3a3a',r:5,gap:3,segs:[{t:'D-OLHC-1300 °C ',c:'#222'},{t:'(Dchg-chg Capacity)',c:'#f07b7b'}],font:F(9.5)},
        {type:'legend',x:8,y:155,half:10,lw:2.5,dash:[2,3],ball:'#1e8de6',r:5,gap:3,segs:[{t:'H-OLHC-1300 °C ',c:'#222'},{t:'(Dchg-chg Capacity)',c:'#2a95e6'}],font:F(9.5)},
        {type:'legend',x:8,y:115,half:10,lw:2.5,dash:[2,3],ball:'#f29090',r:5,gap:3,segs:[{t:'D-OLHC-1300 °C ',c:'#222'},{t:'(CE)',c:'#f07b7b'}],font:F(9.5)},
        {type:'legend',x:8,y:77,half:10,lw:2.5,dash:[2,3],ball:'#7cc8f4',r:5,gap:3,segs:[{t:'H-OLHC-1300 °C ',c:'#222'},{t:'(CE)',c:'#2a95e6'}],font:F(9.5)}
      ]}}}}));

// ---------------- (g) ----------------
mk({x:0,y:378,w:450,h:190},{l:33,t:382,r:416,b:535},s=>({type:'line',
  data:{datasets:[
    ln(Z(gCycles,gCE_H),'#5ab4ee',7,{yAxisID:'y1'}),
    ln(Z(gCycles,gCE_D),'#f08a8a',6,{yAxisID:'y1'}),
    ln(Z(gCycles,gCapH),'#2a90e6',10),
    ln(Z(gCyclesD,gCapD),'#ee4040',10)
  ]},
  options:{layout:{padding:{top:s.t,left:0,right:0,bottom:0}},
    scales:{x:L('bottom',0,1200,gXt,s.b,'Cycle number',{tp:2,ts:11}),
            y:L('left',0,450,gYt,s.l,'Capacity (mAh/g)',{tp:3}),
            y1:L('right',0,110,ceT,s.r,null)},
    plugins:{anno:{minor:['x','y','y1'],rt:{text:'Coulombic efficiency %',x:436},
      before:[
        {type:'line',pts:[[100,0],[100,138]],dash:[2,2],color:'#999',width:0.8},
        {type:'box',x0:63,x1:136,y0:392,y1:333,color:'rgba(140,195,240,0.35)',color2:'rgba(140,195,240,0.08)',stroke:'rgba(150,170,200,0.7)'},
        {type:'box',x0:459,x1:527,y0:392,y1:333,color:'rgba(140,195,240,0.35)',color2:'rgba(140,195,240,0.08)',stroke:'rgba(150,170,200,0.7)'},
        {type:'box',x0:1106,x1:1180,y0:372,y1:316,color:'rgba(140,195,240,0.35)',color2:'rgba(140,195,240,0.08)',stroke:'rgba(150,170,200,0.7)'},
        {type:'box',x0:464,x1:527,y0:275,y1:221,color:'rgba(245,160,160,0.35)',color2:'rgba(245,160,160,0.08)',stroke:'rgba(200,150,150,0.7)'},
        {type:'box',x0:68,x1:136,y0:206,y1:138,color:'rgba(245,160,160,0.35)',color2:'rgba(245,160,160,0.08)',stroke:'rgba(200,150,150,0.7)'},
        {type:'box',x0:1108,x1:1186,y0:240,y1:175,color:'rgba(245,160,160,0.35)',color2:'rgba(245,160,160,0.08)',stroke:'rgba(200,150,150,0.7)'}
      ],
      after:[
        {type:'text',x:99,y:355,text:'95%',color:'#333',font:F(10)},
        {type:'text',x:496,y:355,text:'93%',color:'#333',font:F(10)},
        {type:'text',x:1141,y:344,text:'88%',color:'#333',font:F(10)},
        {type:'text',x:496,y:248,text:'92%',color:'#333',font:F(10)},
        {type:'text',x:100,y:162,text:'95%',color:'#333',font:F(10)},
        {type:'text',x:1146,y:221,text:'78 %',color:'#333',font:F(10)},
        {type:'text',x:903,y:344,text:'C-rate: 1C',color:'#222',font:F(11)},
        {type:'line',yAxis:'y1',pts:[[1150,103.5],[1158,106.8],[1182,107.5]],curve:true,arrowEnd:true,ah:4,width:1.2},
        {type:'legend',x:222,y:164,half:10,lw:3.5,ball:'#ee3030',r:5,gap:1,segs:[{t:'D-OLHC-1300 ℃ ',c:'#222'},{t:'(Dchg-chg Capacity)',c:'#ee5050'}],font:F(11)},
        {type:'legend',x:222,y:115,half:10,lw:3.5,ball:'#1e8ee6',r:5,gap:1,segs:[{t:'H-OLHC-1300 ℃ ',c:'#222'},{t:'(Dchg-chg Capacity)',c:'#2a95e6'}],font:F(11)},
        {type:'legend',x:222,y:66,half:10,lw:3.5,ball:'#f5a0a0',r:5,gap:1,segs:[{t:'D-OLHC-1300 ℃ ',c:'#222'},{t:'(CE)',c:'#ee5050'}],font:F(11)},
        {type:'legend',x:222,y:24,half:10,lw:3.5,ball:'#80c8f4',r:5,gap:1,segs:[{t:'H-OLHC-1300 ℃ ',c:'#222'},{t:'(CE)',c:'#2a95e6'}],font:F(11)}
      ]}}}}));

// ---------------- (h) ----------------
const hCols=['#2d9be8','#e8843a','#1aa3a3','#e6d43a','#1fa36a','#f07a7a','#2d9be8'];
const hBarCols=['#5aacf0','#f2a270','#48c6c6','#f2e66a','#46c68c','#f48a8a','#6ab2f2'];
mk({x:452,y:380,w:248,h:71},{l:482,t:385,r:668,b:451},s=>({type:'bar',
  data:{labels:hNames,datasets:[
    {type:'line',data:hICE,borderWidth:1.5,borderDash:[3,3],tension:0,pointRadius:5.5,pointBackgroundColor:hCols,pointBorderColor:'rgba(0,0,0,0.3)',pointBorderWidth:0.8,
      segment:{borderColor:c=>hCols[c.p1DataIndex]}},
    {type:'bar',data:hICE,backgroundColor:hCols,barThickness:2.5}
  ]},
  options:{layout:{padding:{top:s.t,left:0,right:s.r,bottom:0}},
    scales:{x:L('bottom',0,0,null,0,null,{cat:true,display:false}),
            y:L('left',0,100,hIceT,s.l,'ICE %',{tp:2})}}}));
mk({x:452,y:451,w:248,h:114},{l:482,t:452,r:665,b:549},s=>({type:'bar',
  data:{labels:hNames,datasets:[
    {type:'line',data:hCycle,yAxisID:'y1',borderColor:'#222',borderWidth:1.3,borderDash:[3,3],tension:0,pointRadius:5,pointBackgroundColor:'#f49a9a',pointBorderColor:'#d06060',pointBorderWidth:0.8},
    {type:'bar',data:hCap,backgroundColor:hBarCols,barPercentage:0.78,categoryPercentage:1}
  ]},
  options:{layout:{padding:{top:s.t,left:0,right:0,bottom:0}},
    scales:{x:L('bottom',0,0,null,s.b,'Plant biowaste-derived HC',{cat:true,noLabels:true,noMarks:true,tp:1,ts:11}),
            y:L('left',0,350,hCapT,s.l,'Capacity',{tp:0}),
            y1:L('right',0,1400,hCycT,s.r,null)},
    plugins:{anno:{gloss:1,rt:{text:'Cycle number',x:239},
      after:[
        {type:'text',x:0,y:181,text:hNames[0],color:'#111',font:F(9),rot:-90},
        {type:'text',x:1,y:181,text:hNames[1],color:'#111',font:F(9),rot:-90},
        {type:'text',x:2,y:180,text:hNames[2],color:'#111',font:F(9),rot:-90},
        {type:'text',x:3,y:136,text:hNames[3],color:'#111',font:F(9),rot:-90},
        {type:'text',x:4,y:168,text:hNames[4],color:'#111',font:F(9),rot:-90},
        {type:'text',x:5,y:190,text:hNames[5],color:'#111',font:F(9),rot:-90},
        {type:'text',x:6,y:182,text:hNames[6],color:'#111',font:F(9),rot:-90},
        {type:'legend',page:true,x:507,y:459,half:8,bar:true,gap:5,segs:[{t:'Capacity',c:'#222'}],font:F(11)},
        {type:'legend',page:true,x:576,y:459,half:9,lw:1.3,dash:[3,2],ball:'#f49a9a',r:5,gap:2,segs:[{t:'Cycle number',c:'#222'}],font:F(11)}
      ]}}}}));

// ---------------- (i) ----------------
mk({x:0,y:565,w:700,h:194},{l:36,t:569,r:665,b:721},s=>({type:'line',
  data:{datasets:[
    ln(Z(iCECycles,iCE_D),'#ee6e6e',8,{yAxisID:'y1',pointRadius:firstPt,segment:hideFirst}),
    ln(Z(iCECycles,iCE_H),'#6ab8ee',6,{yAxisID:'y1',segment:hideFirst}),
    ln(Z(iCycles,iCapH),'#1e8ee6',10),
    ln(Z(iCycles,iCapD),'#ee3a3a',9)
  ]},
  options:{layout:{padding:{top:s.t,left:0,right:0,bottom:0}},
    scales:{x:L('bottom',0,8000,iXt,s.b,'Cycle number',{tp:5,ts:11}),
            y:L('left',0,350,iYt,s.l,'Capacity (mAh/g)',{tp:2}),
            y1:L('right',0,110,ceT,s.r,null)},
    plugins:{anno:{minor:['x','y','y1'],rt:{text:'Coulombic efficiency %',x:693,s:11},
      before:[
        {type:'line',pts:[[4000,0],[4000,245]],dash:[2,2],color:'#999',width:0.8},
        {type:'box',x0:3800,x1:4200,y0:309,y1:245,color:'rgba(140,195,240,0.35)',color2:'rgba(140,195,240,0.08)',stroke:'rgba(150,170,200,0.7)'},
        {type:'box',x0:3800,x1:4200,y0:157,y1:100,color:'rgba(245,160,160,0.35)',color2:'rgba(245,160,160,0.08)',stroke:'rgba(200,150,150,0.7)'},
        {type:'box',x0:7640,x1:8000,y0:275,y1:213,color:'rgba(140,195,240,0.35)',color2:'rgba(140,195,240,0.08)',stroke:'rgba(150,170,200,0.7)'},
        {type:'box',x0:7640,x1:8000,y0:122,y1:60,color:'rgba(245,160,160,0.35)',color2:'rgba(245,160,160,0.08)',stroke:'rgba(200,150,150,0.7)'}
      ],
      after:[
        {type:'text',x:4000,y:266,text:'86 %',color:'#333',font:F(11)},
        {type:'text',x:4000,y:103,text:'80 %',color:'#333',font:F(11)},
        {type:'text',x:7820,y:238,text:'75 %',color:'#333',font:F(11)},
        {type:'text',x:7830,y:82,text:'51 %',color:'#333',font:F(11)},
        {type:'line',yAxis:'y1',pts:[[7680,101],[7760,106.5],[7940,107]],curve:true,arrowEnd:true,ah:5,width:1.3},
        {type:'legend',x:750,y:196,half:14,lw:4,ball:'#1e8ee6',r:6,gap:1,segs:[{t:'H-OLHC-1300 ℃ ',c:'#222'},{t:'(Dchg-chg Capacity)',c:'#3aa0e8'}],font:F(11.5)},
        {type:'legend',x:750,y:155,half:14,lw:4,ball:'#ee3a3a',r:6,gap:1,segs:[{t:'D-OLHC-1300 ℃ ',c:'#222'},{t:'(Dchg-chg Capacity)',c:'#ee5050'}],font:F(11.5)},
        {type:'legend',x:750,y:116,half:14,lw:4,ball:'#7cc4f2',r:6,gap:1,segs:[{t:'H-OLHC-1300 ℃ ',c:'#222'},{t:'(CE)',c:'#3aa0e8'}],font:F(11.5)},
        {type:'legend',x:750,y:45,half:14,lw:4,ball:'#f29a9a',r:6,gap:1,segs:[{t:'D-OLHC-1300 ℃ ',c:'#222'},{t:'(CE)',c:'#ee5050'}],font:F(11.5)}
      ]}}}}));

// panel letters
letter('a',2,21);letter('b',215,24);letter('c',480,22);
letter('d',3,210);letter('e',218,210);letter('f',433,212);
letter('g',5,403);letter('h',448,402);letter('i',6,585);
</script></body></html>
